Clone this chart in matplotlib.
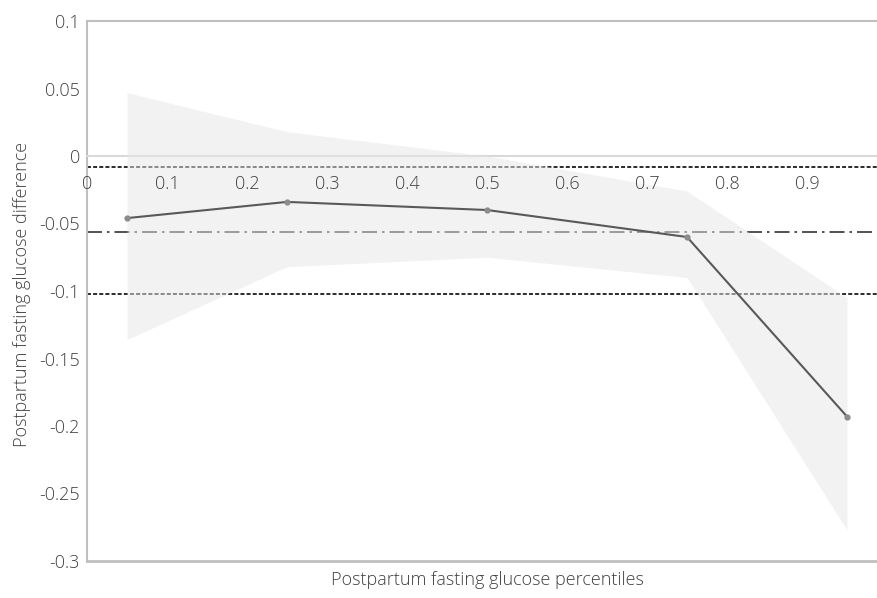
import matplotlib.pyplot as plt

# quantile regression estimates with confidence band
percentiles = [0.05, 0.25, 0.5, 0.75, 0.95]
estimate = [-0.046, -0.034, -0.040, -0.060, -0.193]
ci_upper = [0.047, 0.018, 0.000, -0.026, -0.105]
ci_lower = [-0.136, -0.082, -0.075, -0.090, -0.277]

# OLS estimate and its confidence limits
ols_estimate = -0.056
ols_upper = -0.0085
ols_lower = -0.102

x_ticks = [0, 0.1, 0.2, 0.3, 0.4, 0.5, 0.6, 0.7, 0.8, 0.9]
x_labels = ["0", "0.1", "0.2", "0.3", "0.4", "0.5", "0.6", "0.7", "0.8", "0.9"]
y_ticks = [0.1, 0.05, 0, -0.05, -0.1, -0.15, -0.2, -0.25, -0.3]
y_labels = ["0.1", "0.05", "0", "-0.05", "-0.1", "-0.15", "-0.2", "-0.25", "-0.3"]

plt.rcParams["font.family"] = ["Open Sans", "DejaVu Sans"]
plt.rcParams["font.weight"] = "light"
TXT = "#404040"
AXC = "#bfbfbf"
FS = 13

W, H = 877, 598
fig = plt.figure(figsize=(W / 100, H / 100), dpi=100)
ax = fig.add_axes([87 / W, 1 - 561 / H, (W - 87) / W, 540 / H])

ax.set_xlim(0, (W - 87) / 800)
ax.set_ylim(-0.3, 0.1)

# reference lines (drawn under the band)
ax.axhline(ols_upper, color="#1a1a1a", lw=1.3, ls=(0, (2.2, 1.2)), zorder=2)
ax.axhline(ols_lower, color="#1a1a1a", lw=1.3, ls=(0, (2.2, 1.2)), zorder=2)
ax.axhline(ols_estimate, color="#333333", lw=1.2,
           ls=(0, (9, 3, 1.5, 3)), zorder=2)

ax.fill_between(percentiles, ci_lower, ci_upper, color="#e6e6e6",
                alpha=0.5, lw=0, zorder=3)

ax.plot(percentiles, estimate, color="#595959", lw=1.5, marker="o",
        ms=3.5, mfc="#8c8c8c", mec="#8c8c8c", zorder=5)

# axes styling: x axis crosses at zero
ax.spines["bottom"].set_position(("data", 0))
ax.spines["bottom"].set_color("#d9d9d9")
ax.spines["bottom"].set_linewidth(1.5)
ax.spines["left"].set_color(AXC)
ax.spines["left"].set_linewidth(1.5)
ax.spines["top"].set_color(AXC)
ax.spines["top"].set_linewidth(1.5)
ax.spines["right"].set_visible(False)
ax.axhline(-0.3, color=AXC, lw=2, zorder=1, clip_on=False)

ax.set_xticks(x_ticks)
ax.set_xticklabels(x_labels)
ax.set_yticks(y_ticks)
ax.set_yticklabels(y_labels)
ax.tick_params(axis="x", length=0, pad=14, labelsize=FS, labelcolor=TXT)
ax.tick_params(axis="y", length=0, pad=5, labelsize=FS, labelcolor=TXT)
ax.xaxis.set_zorder(6)

fig.text(487 / W, 1 - 580 / H, "Postpartum fasting glucose percentiles",
         ha="center", va="center", fontsize=FS, color=TXT)
fig.text(22 / W, 1 - 294 / H, "Postpartum fasting glucose difference",
         ha="center", va="center", rotation=90, fontsize=FS, color=TXT)

fig.savefig("out.png", dpi=100)
